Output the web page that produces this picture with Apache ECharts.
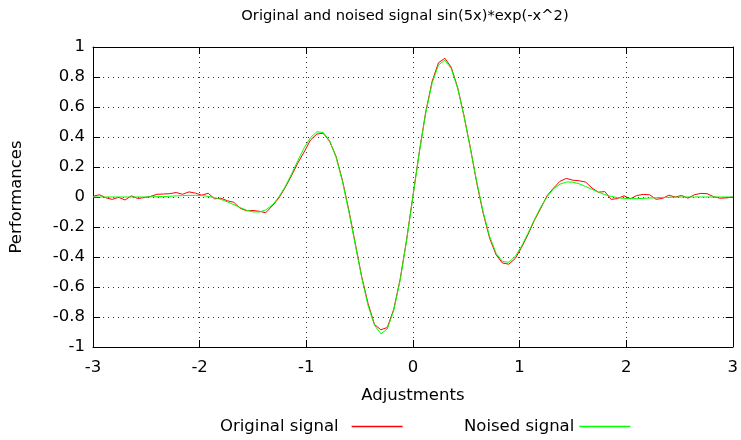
<!DOCTYPE html>
<html><head><meta charset="utf-8">
<script src="https://cdn.jsdelivr.net/npm/echarts@6/dist/echarts.min.js"></script>
<style>html,body{margin:0;padding:0;background:#fff}#c{width:741px;height:440px}</style>
</head><body><div id="c"></div>
<script>
const xValues = [
-3.00,-2.94,-2.88,-2.82,-2.76,-2.70,-2.64,-2.58,-2.52,-2.46,
-2.40,-2.34,-2.28,-2.22,-2.16,-2.10,-2.04,-1.98,-1.92,-1.86,
-1.80,-1.74,-1.68,-1.62,-1.56,-1.50,-1.44,-1.38,-1.32,-1.26,
-1.20,-1.14,-1.08,-1.02,-0.96,-0.90,-0.84,-0.78,-0.72,-0.66,
-0.60,-0.54,-0.48,-0.42,-0.36,-0.30,-0.24,-0.18,-0.12,-0.06,
0.00,0.06,0.12,0.18,0.24,0.30,0.36,0.42,0.48,0.54,
0.60,0.66,0.72,0.78,0.84,0.90,0.96,1.02,1.08,1.14,
1.20,1.26,1.32,1.38,1.44,1.50,1.56,1.62,1.68,1.74,
1.80,1.86,1.92,1.98,2.04,2.10,2.16,2.22,2.28,2.34,
2.40,2.46,2.52,2.58,2.64,2.70,2.76,2.82,2.88,2.94,3.00];

const originalSignal = [
0.005,0.015,-0.005,-0.016,-0.002,-0.020,0.008,-0.010,-0.004,0.004,
0.018,0.020,0.022,0.030,0.018,0.034,0.026,0.012,0.025,-0.012,
-0.008,-0.025,-0.035,-0.075,-0.092,-0.090,-0.095,-0.105,-0.060,-0.010,
0.060,0.140,0.225,0.300,0.380,0.420,0.425,0.370,0.270,0.110,
-0.090,-0.310,-0.530,-0.710,-0.850,-0.885,-0.870,-0.750,-0.550,-0.290,
0.005,0.300,0.565,0.770,0.895,0.925,0.865,0.730,0.540,0.325,
0.090,-0.110,-0.275,-0.385,-0.440,-0.448,-0.410,-0.335,-0.250,-0.155,
-0.075,0.010,0.060,0.105,0.124,0.112,0.108,0.100,0.060,0.032,
0.036,-0.016,-0.010,0.008,-0.012,0.010,0.017,0.015,-0.015,-0.010,
0.012,0.000,0.010,-0.008,0.015,0.024,0.022,0.002,-0.008,-0.006,0.000];

const noisedSignal = [
0.000,0.000,0.000,0.000,0.000,0.000,0.000,0.000,0.000,0.001,
0.002,0.003,0.005,0.007,0.009,0.011,0.011,0.009,0.004,-0.004,
-0.016,-0.032,-0.051,-0.070,-0.088,-0.099,-0.100,-0.086,-0.055,-0.003,
0.066,0.150,0.241,0.327,0.396,0.435,0.430,0.374,0.264,0.102,
-0.099,-0.319,-0.537,-0.724,-0.855,-0.912,-0.880,-0.758,-0.557,-0.295,
0.000,0.295,0.557,0.758,0.880,0.912,0.855,0.724,0.537,0.319,
0.099,-0.102,-0.264,-0.374,-0.430,-0.435,-0.396,-0.327,-0.241,-0.150,
-0.066,0.003,0.055,0.086,0.100,0.099,0.088,0.070,0.051,0.032,
0.016,0.004,-0.004,-0.009,-0.011,-0.011,-0.009,-0.007,-0.005,-0.003,
-0.002,-0.001,0.000,0.000,0.000,0.000,0.000,0.000,0.000,0.000,0.000];

const seriesNames = ['Original signal', 'Noised signal'];
const chartTitle = 'Original and noised signal sin(5x)*exp(-x^2)';
const xName = 'Adjustments';
const yName = 'Performances';

const FONT = 'DejaVu Sans';
const FS = 16.5;
const chart = echarts.init(document.getElementById('c'), null, {renderer: 'canvas'});
const pairs = ys => xValues.map((x, i) => [x, ys[i]]);
const gridDash = {show: true, lineStyle: {color: '#333', width: 1, type: [1, 4]}};
const baseX = {type: 'value', min: -3, max: 3, interval: 1,
  axisLine: {show: true, onZero: false, lineStyle: {color: '#000', width: 1}},
  axisTick: {show: true, inside: true, length: 7, lineStyle: {color: '#000'}}};
const baseY = {type: 'value', min: -1, max: 1, interval: 0.2,
  axisLine: {show: true, onZero: false, lineStyle: {color: '#000', width: 1}},
  axisTick: {show: true, inside: true, length: 7, lineStyle: {color: '#000'}}};

chart.setOption({
  animation: false,
  backgroundColor: '#fff',
  title: {text: chartTitle, left: 400, top: 4, textAlign: 'center',
    textStyle: {fontFamily: FONT, fontSize: 14.7, fontWeight: 'normal', color: '#000'}},
  grid: {left: 92, right: 5, top: 47, bottom: 93, containLabel: false},
  legend: [
    {data: [seriesNames[0]], left: 215, top: 413, align: 'right', icon: 'rect',
     itemWidth: 51, itemHeight: 1.5, textStyle: {fontFamily: FONT, fontSize: FS, color: '#000', padding: [0, 8, 0, 0]}},
    {data: [seriesNames[1]], left: 459, top: 413, align: 'right', icon: 'rect',
     itemWidth: 51, itemHeight: 1.5, textStyle: {fontFamily: FONT, fontSize: FS, color: '#000', padding: [0, 0, 0, 0]}}
  ],
  xAxis: [
    Object.assign({}, baseX, {position: 'bottom', name: xName, nameLocation: 'middle', nameGap: 40,
      nameTextStyle: {fontFamily: FONT, fontSize: FS, color: '#000'},
      axisLabel: {fontFamily: FONT, fontSize: FS, color: '#000', margin: 12},
      splitLine: gridDash}),
    Object.assign({}, baseX, {position: 'top', axisLabel: {show: false}, splitLine: {show: false}})
  ],
  yAxis: [
    Object.assign({}, baseY, {position: 'left', name: yName, nameLocation: 'middle', nameGap: 68,
      nameTextStyle: {fontFamily: FONT, fontSize: FS, color: '#000'},
      axisLabel: {fontFamily: FONT, fontSize: FS, color: '#000', margin: 8},
      splitLine: gridDash}),
    Object.assign({}, baseY, {position: 'right', axisLabel: {show: false}, splitLine: {show: false}})
  ],
  series: [
    {name: seriesNames[0], type: 'line', data: pairs(originalSignal), showSymbol: false,
     lineStyle: {color: '#ff0000', width: 1}, itemStyle: {color: '#ff0000'}, z: 3},
    {name: seriesNames[1], type: 'line', data: pairs(noisedSignal), showSymbol: false,
     lineStyle: {color: '#00ff00', width: 1}, itemStyle: {color: '#00ff00'}, z: 4}
  ]
});
</script></body></html>
